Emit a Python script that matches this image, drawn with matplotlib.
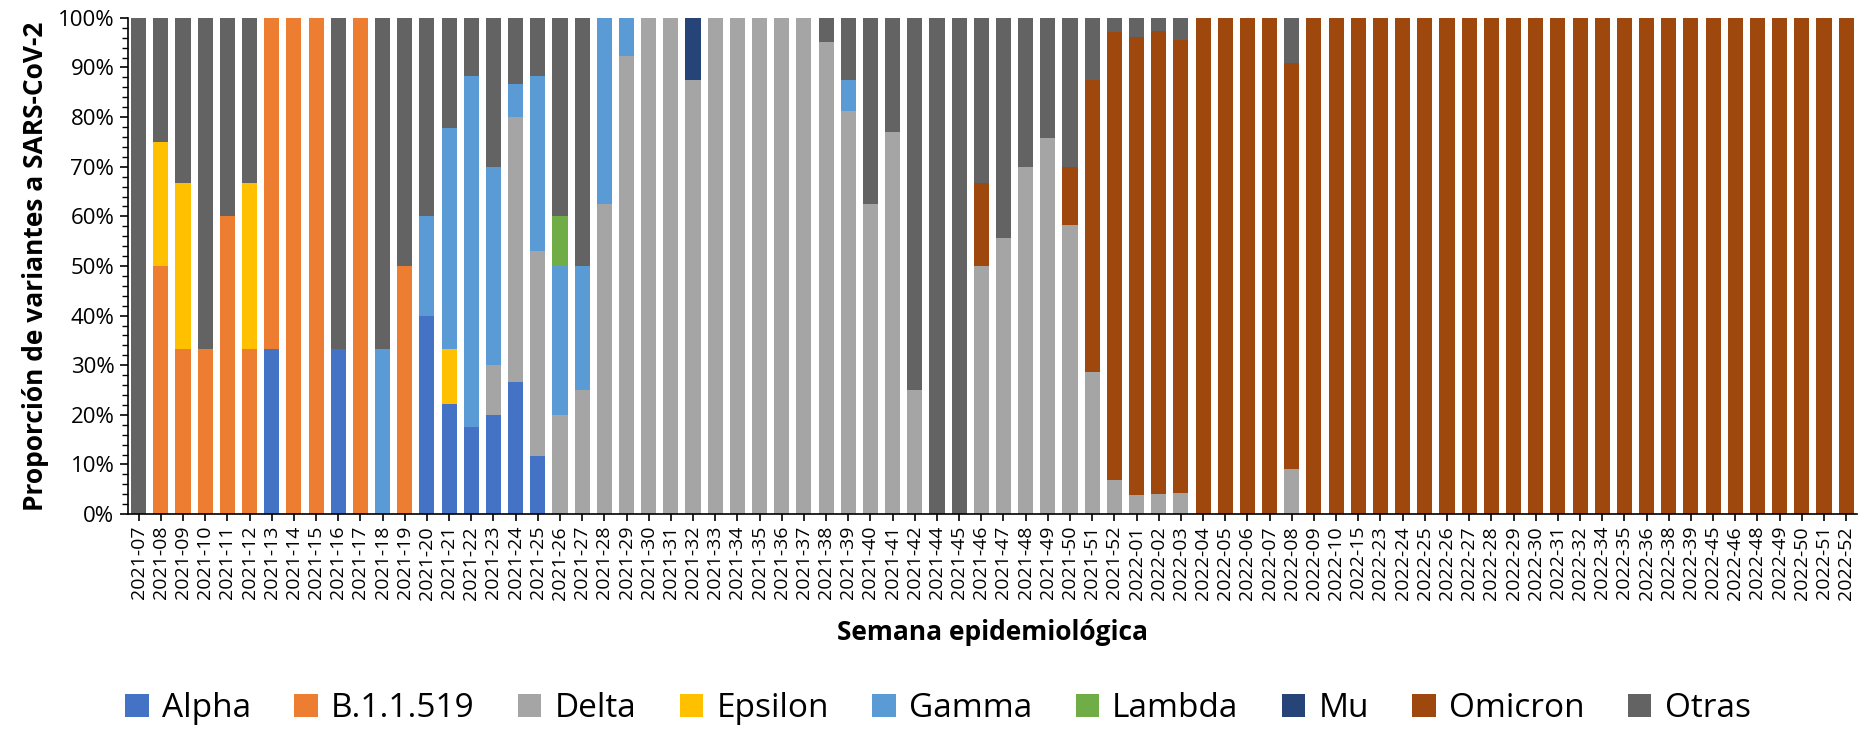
import matplotlib
matplotlib.use("Agg")
import matplotlib.pyplot as plt
from matplotlib.ticker import MultipleLocator
import numpy as np

plt.rcParams['font.family'] = ['Open Sans', 'DejaVu Sans']

weeks = ["2021-%02d" % w for w in list(range(7, 43)) + list(range(44, 53))] + \
        ["2022-%02d" % w for w in list(range(1, 11)) + [15, 23, 24, 25, 26, 27, 28, 29, 30, 31, 32, 34, 35, 36, 38, 39, 45, 46, 48, 49, 50, 51, 52]]
n = len(weeks)
variants = ["Alpha", "B.1.1.519", "Delta", "Epsilon", "Gamma", "Lambda", "Mu", "Omicron", "Otras"]
colors = ["#4472C4", "#ED7D31", "#A5A5A5", "#FFC000", "#5B9BD5", "#70AD47", "#264478", "#9E480E", "#636363"]

# per-week composition (percent)
rows = {
 "2021-07": {"Otras": 100},
 "2021-08": {"B.1.1.519": 50, "Epsilon": 25, "Otras": 25},
 "2021-09": {"B.1.1.519": 33.3, "Epsilon": 33.4, "Otras": 33.3},
 "2021-10": {"B.1.1.519": 33.3, "Otras": 66.7},
 "2021-11": {"B.1.1.519": 60, "Otras": 40},
 "2021-12": {"B.1.1.519": 33.3, "Epsilon": 33.4, "Otras": 33.3},
 "2021-13": {"Alpha": 33.3, "B.1.1.519": 66.7},
 "2021-14": {"B.1.1.519": 100},
 "2021-15": {"B.1.1.519": 100},
 "2021-16": {"Alpha": 33.3, "Otras": 66.7},
 "2021-17": {"B.1.1.519": 100},
 "2021-18": {"Gamma": 33.3, "Otras": 66.7},
 "2021-19": {"B.1.1.519": 50, "Otras": 50},
 "2021-20": {"Alpha": 40, "Gamma": 20, "Otras": 40},
 "2021-21": {"Alpha": 22.2, "Epsilon": 11.1, "Gamma": 44.5, "Otras": 22.2},
 "2021-22": {"Alpha": 17.6, "Gamma": 70.6, "Otras": 11.8},
 "2021-23": {"Alpha": 20, "Delta": 10, "Gamma": 40, "Otras": 30},
 "2021-24": {"Alpha": 26.7, "Delta": 53.3, "Gamma": 6.7, "Otras": 13.3},
 "2021-25": {"Alpha": 11.8, "Delta": 41.2, "Gamma": 35.3, "Otras": 11.7},
 "2021-26": {"Delta": 20, "Gamma": 30, "Lambda": 10, "Otras": 40},
 "2021-27": {"Delta": 25, "Gamma": 25, "Otras": 50},
 "2021-28": {"Delta": 62.5, "Gamma": 37.5},
 "2021-29": {"Delta": 92.3, "Gamma": 7.7},
 "2021-32": {"Delta": 87.5, "Mu": 12.5},
 "2021-38": {"Delta": 95.2, "Otras": 4.8},
 "2021-39": {"Delta": 81.25, "Gamma": 6.25, "Otras": 12.5},
 "2021-40": {"Delta": 62.5, "Otras": 37.5},
 "2021-41": {"Delta": 76.9, "Otras": 23.1},
 "2021-42": {"Delta": 25, "Otras": 75},
 "2021-44": {"Otras": 100},
 "2021-45": {"Otras": 100},
 "2021-46": {"Delta": 50, "Omicron": 16.7, "Otras": 33.3},
 "2021-47": {"Delta": 55.6, "Otras": 44.4},
 "2021-48": {"Delta": 70, "Otras": 30},
 "2021-49": {"Delta": 75.8, "Otras": 24.2},
 "2021-50": {"Delta": 58.3, "Omicron": 11.7, "Otras": 30},
 "2021-51": {"Delta": 28.6, "Omicron": 58.9, "Otras": 12.5},
 "2021-52": {"Delta": 6.9, "Omicron": 90.3, "Otras": 2.8},
 "2022-01": {"Delta": 3.8, "Omicron": 92.3, "Otras": 3.9},
 "2022-02": {"Delta": 4.1, "Omicron": 93.2, "Otras": 2.7},
 "2022-03": {"Delta": 4.3, "Omicron": 91.3, "Otras": 4.4},
 "2022-08": {"Delta": 9.1, "Omicron": 81.8, "Otras": 9.1},
}
for w in weeks:
    if w not in rows:
        rows[w] = {"Delta": 100} if w.startswith("2021") else {"Omicron": 100}

fig = plt.figure(figsize=(18.76, 7.44), dpi=100)
ax = fig.add_axes([0.068, 0.309, 0.922, 0.667])
x = np.arange(n)
bottom = np.zeros(n)
for v, c in zip(variants, colors):
    vals = np.array([rows[w].get(v, 0) for w in weeks]) / 100
    ax.bar(x, vals, 0.68, bottom=bottom, color=c, label=v)
    bottom += vals

ax.set_xlim(-0.5, n - 0.5)
ax.set_ylim(0, 1)
ax.set_yticks(np.arange(0, 1.01, 0.1))
ax.yaxis.set_minor_locator(MultipleLocator(0.02))
ax.set_yticklabels(["%d%%" % (t * 10) for t in range(11)], fontsize=16)
ax.set_xticks(x)
ax.set_xticklabels(weeks, rotation=90, fontsize=14)
ax.tick_params(axis='x', length=5, width=1.2)
ax.tick_params(axis='y', which='major', length=6, width=1.2)
ax.tick_params(axis='y', which='minor', length=4, width=1)
for s in ["top", "right"]:
    ax.spines[s].set_visible(False)
ax.spines["left"].set_linewidth(1.2)
ax.spines["bottom"].set_linewidth(1.2)
ax.set_ylabel("Proporción de variantes a SARS-CoV-2", fontsize=19, fontweight='bold', labelpad=6)
ax.set_xlabel("Semana epidemiológica", fontsize=19, fontweight='bold', labelpad=14)
fig.legend(loc='lower center', ncol=9, frameon=False, fontsize=24,
           bbox_to_anchor=(0.5, -0.015), handlelength=0.7, handleheight=0.7,
           columnspacing=1.3, handletextpad=0.4)
fig.savefig("out.png", dpi=100)
